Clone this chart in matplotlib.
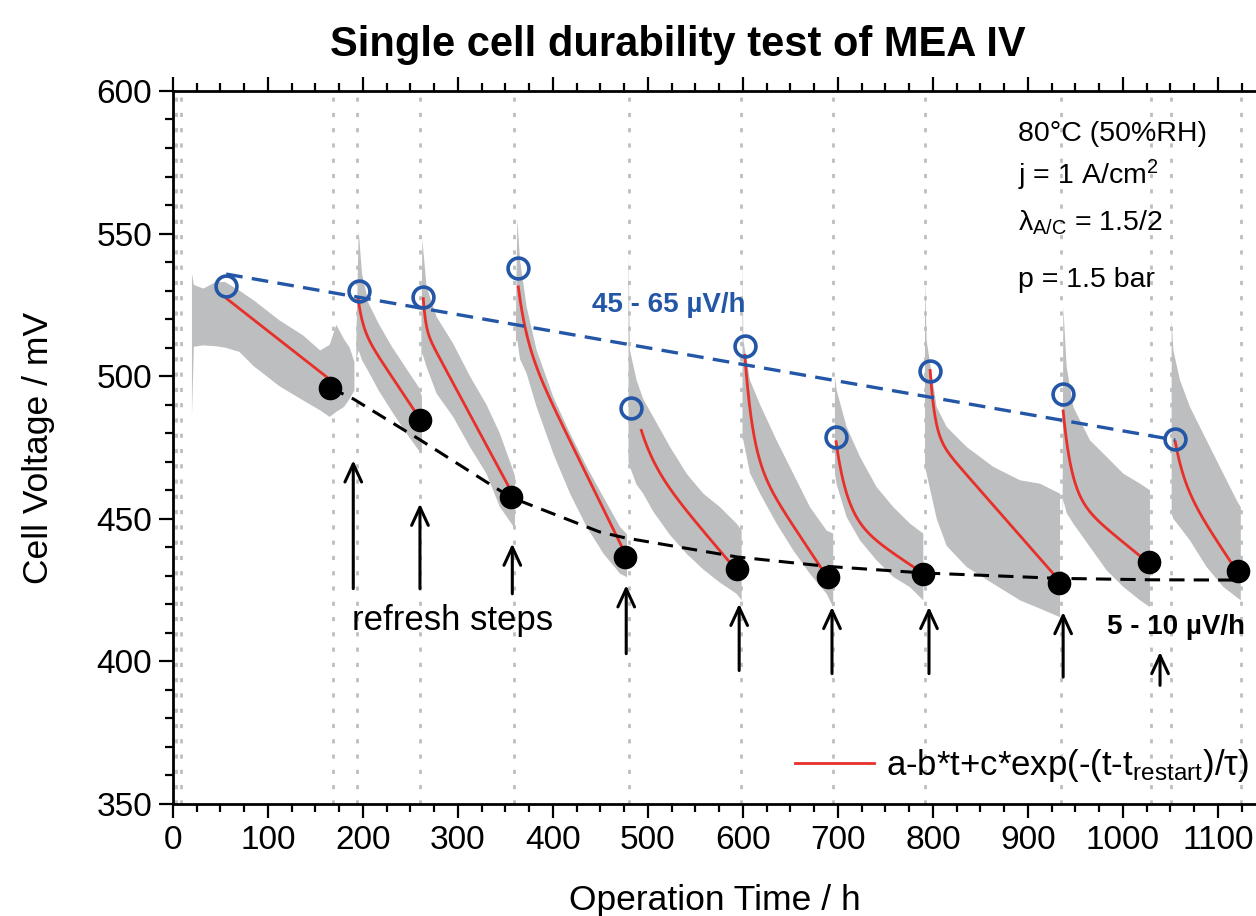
import numpy as np
import matplotlib.pyplot as plt

plt.rcParams['font.family'] = ['Liberation Sans', 'DejaVu Sans']
plt.rcParams['mathtext.fontset'] = 'custom'
plt.rcParams['mathtext.rm'] = 'Liberation Sans'
plt.rcParams['mathtext.it'] = 'Liberation Sans:italic'
plt.rcParams['mathtext.bf'] = 'Liberation Sans:bold'

gray = '#bdbebf'
blue = '#2356a6'
red = '#e8302a'

# raw data band (upper / lower envelope of the gray cloud), one list per run
band_t = [
    [20, 22, 32, 45, 55, 70, 85, 112, 137, 155, 165, 172, 180, 186, 191],
    [193, 195.5, 199, 206, 216.5, 230.5, 244.6, 258.6, 262],
    [261.5, 262.5, 267, 277.5, 295, 312.6, 330, 344, 358, 360],
    [361, 362.5, 365.3, 372.3, 382.8, 400.4, 418, 435.6, 453.1, 470.7, 478],
    [479.5, 481, 488, 495, 505.6, 523.2, 540.7, 558.3, 575.8, 593.3, 598.6],
    [599.5, 600.4, 607.4, 618, 635.4, 653, 670.5, 688, 695],
    [696.8, 698.6, 709.1, 723.2, 740.7, 758.2, 775.8, 789.8],
    [791.6, 793.3, 803.9, 814.4, 835.4, 863.5, 891.6, 912.6, 933.7],
    [936.5, 937.2, 940.7, 947.7, 965.3, 982.8, 1000.4, 1018, 1028.4],
    [1051.2, 1053, 1060, 1070.5, 1088, 1105.6, 1119.6, 1124],
]
band_hi = [
    [536, 532, 530.7, 533, 533, 530, 526.6, 519.6, 514.3, 509, 511, 518, 513, 510, 505],
    [512, 551, 536, 525.5, 518.4, 510.3, 503.2, 496.2, 493],
    [515, 548, 531.3, 520.8, 511.4, 500, 490, 480, 467, 465],
    [520, 555, 540.7, 524.3, 509.1, 492.7, 479.9, 468.2, 457.6, 447.1, 444.5],
    [543, 509.1, 498.6, 492, 485.7, 475.2, 465.8, 458.8, 454.1, 448.3, 445.9],
    [542, 512.6, 498.6, 490, 477.5, 465.8, 454.1, 445.9, 444.8],
    [500, 495.1, 482.2, 471.7, 461.1, 454.1, 448.3, 444.8],
    [535, 512.6, 489.2, 482.2, 475.2, 468.2, 463.5, 462.3, 458.8],
    [458, 524.3, 503.3, 489.2, 477.5, 471.7, 465.8, 462.3, 460],
    [519.6, 509.1, 498.6, 489.2, 477.5, 465.8, 456.5, 454],
]
band_lo = [
    [486, 510.3, 510.8, 510.5, 510, 508.5, 503.5, 496.5, 491.5, 488, 485.7, 487.5, 489.2, 492, 495],
    [506, 509, 505.6, 501.5, 495, 487.6, 480.5, 474, 474],
    [505, 508, 503.2, 493.9, 485.7, 475.2, 465.8, 454.2, 447.5, 447],
    [512, 512.6, 506, 500.9, 489.2, 472.8, 458.8, 447.1, 437.8, 430.7, 429.5],
    [470, 468.2, 462, 458.8, 452.5, 444.3, 437.7, 432.2, 427.6, 423.7, 421.4],
    [478, 477.5, 466, 458.8, 448.3, 438.9, 430.7, 423.7, 419],
    [465.8, 462, 450.6, 442.4, 435.4, 429.6, 426, 421.4],
    [468, 465.8, 450, 440.5, 433.1, 427.2, 421.4, 418.5, 415.5],
    [452, 456.5, 452, 448.3, 440.1, 431.9, 426.1, 421.4, 419],
    [451.8, 450, 447, 442.4, 433.1, 426.1, 422.5, 421.4],
]
# refresh / restart traces (voltage sweeps through the full range)
restart_t = [3, 8, 168, 194, 260, 359, 480, 598, 695, 792, 935, 1029, 1051, 1124]

# fit parameters per run: V = A - b*(t-t0) + c*exp(-(t-t0)/tau)
fit_t0 = [56.5, 195, 263.5, 363.5, 493, 602, 698, 797, 937, 1055]
fit_t1 = [162, 259, 355, 476, 593, 688, 789, 932, 1027, 1121]
fit_A = [527.2, 517.5, 517, 514.3, 471, 472.9, 451, 480, 458.8, 464]
fit_b = [0.261, 0.5, 0.62, 0.68, 0.39, 0.5, 0.22, 0.38, 0.27, 0.5]
fit_c = [0, 9.5, 10.2, 17, 10, 34.4, 26, 22, 29, 13]
fit_tau = [10, 5, 2.5, 9, 15, 8.5, 12, 5, 9, 10]

# open circles: voltage after restart
peak_t = [55.4, 195.8, 263.2, 363.2, 482.4, 602.1, 698, 796.5, 937, 1054.6]
peak_v = [531.6, 529.9, 527.6, 537.8, 489.0, 510.6, 478.7, 501.9, 493.8, 477.8]
# filled circles: voltage before refresh
end_t = [164.9, 260.4, 355.4, 475.8, 593.7, 689.3, 789.6, 932.6, 1027.3, 1121.5]
end_v = [495.7, 484.8, 457.6, 436.6, 432.5, 429.6, 430.8, 427.5, 434.9, 431.7]

# trend lines
rev_t = [56, 1055]
rev_v = [535.8, 477.6]
irr_t = [165, 190, 260, 355, 449, 476, 594, 689, 790, 933, 1030, 1127]
irr_v = [496, 492, 477.7, 457.6, 445.4, 443.3, 436.6, 433.3, 431.0, 429.1, 428.6, 428.5]

# refresh arrows: x, tail, tip
arrow_t = [189.8, 260, 357.2, 477.1, 596, 693.7, 795.8, 937, 1039]
arrow_tail = [425.5, 425.5, 423.7, 402.7, 396.8, 395.7, 395.7, 394.5, 391.6]
arrow_tip = [470.5, 455.3, 441.3, 426.7, 420.2, 419.1, 419.1, 417.3, 403.3]

fig = plt.figure(figsize=(12.56, 9.16), dpi=100)
ax = fig.add_axes([0.1377, 0.1223, 0.8623, 0.7784])

ax.vlines(restart_t, 350, 600, colors=gray, linestyles=(0, (1.5, 4)), lw=2, zorder=1)
for t, hi, lo in zip(band_t, band_hi, band_lo):
    ax.fill(np.r_[t, t[::-1]], np.r_[hi, lo[::-1]], color=gray, lw=0, zorder=1)

for i in range(len(fit_t0)):
    tt = np.linspace(fit_t0[i], fit_t1[i], 300)
    dt = tt - fit_t0[i]
    vv = fit_A[i] - fit_b[i] * dt + fit_c[i] * np.exp(-dt / fit_tau[i])
    line, = ax.plot(tt, vv, color=red, lw=2, zorder=3)
    if i == 0:
        fit_line = line

ax.plot(rev_t, rev_v, color=blue, lw=2.4, dashes=(5, 2.8), zorder=3)
ax.plot(irr_t, irr_v, color='k', lw=2.2, dashes=(5, 3), zorder=3)
ax.plot(peak_t, peak_v, 'o', mfc='none', mec=blue, mew=2.6, ms=15, zorder=5)
ax.plot(end_t, end_v, 'o', color='k', ms=16, zorder=5)

for x, a, b in zip(arrow_t, arrow_tail, arrow_tip):
    ax.annotate('', xy=(x, b), xytext=(x, a),
                arrowprops=dict(arrowstyle='->,head_length=0.65,head_width=0.3',
                                lw=2.2, color='k', shrinkA=0, shrinkB=0,
                                mutation_scale=20), zorder=4)

ax.text(188, 410.9, 'refresh steps', fontsize=25)
ax.text(440.7, 522.6, '45 - 65 µV/h', fontsize=20, weight='bold', color=blue)
ax.text(1128, 409.7, '5 - 10 µV/h', fontsize=20, weight='bold', ha='right')

ax.text(889.5, 582.6, '80°C (50%RH)', fontsize=20.5)
ax.text(889.5, 567.4, 'j = 1 A/cm$^2$', fontsize=20.5)
ax.text(889.5, 551, 'λ$_{\\rm A/C}$ = 1.5/2', fontsize=20.5)
ax.text(889.5, 531.4, 'p = 1.5 bar', fontsize=20.5)

ax.legend([fit_line], ['a-b*t+c*exp(-(t-t$_{\\rm restart}$)/τ)'],
          loc='center right', bbox_to_anchor=(0.993, 0.054), frameon=False,
          fontsize=25, handlelength=2.3, handletextpad=0.32,
          borderpad=0, borderaxespad=0)

ax.set_xlim(0, 1140)
ax.set_ylim(350, 600)
ax.set_xticks(np.arange(0, 1101, 100))
ax.set_xticks(np.arange(0, 1141, 25), minor=True)
ax.set_yticks(np.arange(350, 601, 50))
ax.set_yticks(np.arange(350, 601, 10), minor=True)
ax.spines['right'].set_visible(False)
for s in ['left', 'bottom', 'top']:
    ax.spines[s].set_linewidth(2)
ax.tick_params(which='both', direction='out', top=True, right=False, width=1.6,
               labelsize=24, pad=5)
ax.tick_params(which='major', length=10)
ax.tick_params(which='minor', length=5.5)

ax.set_xlabel('Operation Time / h', fontsize=25.5, labelpad=20)
ax.set_ylabel('Cell Voltage / mV', fontsize=25.5, labelpad=30)
fig.text(0.54, 0.951, 'Single cell durability test of MEA IV', ha='center',
         va='center', fontsize=30, weight='bold')

fig.savefig('out.png', dpi=100)
